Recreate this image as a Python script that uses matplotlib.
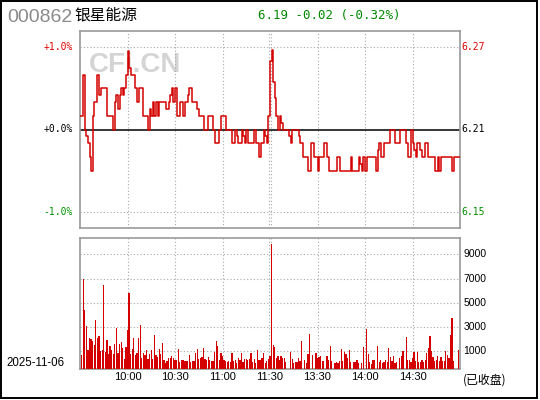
import numpy as np
import matplotlib
matplotlib.use('Agg')
import matplotlib.pyplot as plt
import matplotlib.transforms as mtransforms
from matplotlib.patches import Rectangle

# ---------------- data ----------------
code = '000862'
name = '银星能源'
quote_text = '6.19 -0.02 (-0.32%)'
date_text = '2025-11-06'
status_text = '(已收盘)'
watermark = 'CFi.CN'

prev_close = 6.21
price_levels = [6.27, 6.21, 6.15]
pct_labels = ['+1.0%', '+0.0%', '-1.0%']
price_labels = ['6.27', '6.21', '6.15']
level_colors = ['#e00000', '#000000', '#009000']

time_ticks = [30, 60, 90, 120, 150, 180, 210]
time_labels = ['10:00', '10:30', '11:00', '11:30', '13:30', '14:00', '14:30']

vol_ticks = [1490, 3470, 5450, 7440, 9530]
vol_labels = ['1000', '3000', '5000', '7000', '9000']

prices = [
    6.22, 6.22, 6.25, 6.21, 6.205, 6.20, 6.19, 6.18, 6.22, 6.23,
    6.23, 6.25, 6.235, 6.24, 6.24, 6.24, 6.24, 6.22, 6.22, 6.22,
    6.22, 6.21, 6.23, 6.235, 6.225, 6.235, 6.24, 6.235, 6.24, 6.25,
    6.267, 6.255, 6.25, 6.25, 6.25, 6.24, 6.23, 6.24, 6.24, 6.24,
    6.22, 6.22, 6.22, 6.21, 6.225, 6.22, 6.23, 6.22, 6.23, 6.22,
    6.23, 6.23, 6.23, 6.23, 6.225, 6.225, 6.23, 6.235, 6.24, 6.23,
    6.24, 6.22, 6.22, 6.23, 6.23, 6.22, 6.23, 6.23, 6.235, 6.24,
    6.24, 6.23, 6.23, 6.23, 6.225, 6.22, 6.22, 6.22, 6.21, 6.21,
    6.21, 6.22, 6.22, 6.22, 6.21, 6.20, 6.20, 6.20, 6.21, 6.22,
    6.22, 6.22, 6.21, 6.21, 6.21, 6.21, 6.20, 6.20, 6.21, 6.205,
    6.20, 6.20, 6.21, 6.205, 6.20, 6.21, 6.20, 6.20, 6.20, 6.20,
    6.21, 6.20, 6.20, 6.19, 6.20, 6.20, 6.21, 6.205, 6.20, 6.22,
    6.26, 6.268, 6.245, 6.233, 6.22, 6.21, 6.22, 6.215, 6.21, 6.21,
    6.21, 6.21, 6.205, 6.20, 6.21, 6.21, 6.21, 6.21, 6.205, 6.20,
    6.20, 6.19, 6.19, 6.19, 6.18, 6.18, 6.20, 6.20, 6.19, 6.19,
    6.18, 6.19, 6.19, 6.19, 6.20, 6.20, 6.19, 6.18, 6.18, 6.18,
    6.18, 6.18, 6.19, 6.19, 6.18, 6.18, 6.18, 6.18, 6.18, 6.18,
    6.18, 6.19, 6.18, 6.18, 6.18, 6.18, 6.19, 6.185, 6.18, 6.19,
    6.18, 6.19, 6.19, 6.19, 6.19, 6.19, 6.19, 6.18, 6.195, 6.20,
    6.19, 6.19, 6.20, 6.20, 6.20, 6.20, 6.21, 6.21, 6.21, 6.20,
    6.20, 6.20, 6.21, 6.21, 6.21, 6.21, 6.20, 6.19, 6.19, 6.21,
    6.20, 6.195, 6.19, 6.20, 6.20, 6.195, 6.19, 6.19, 6.20, 6.20,
    6.19, 6.19, 6.19, 6.19, 6.18, 6.18, 6.19, 6.18, 6.19, 6.19,
    6.19, 6.19, 6.19, 6.19, 6.19, 6.18, 6.19, 6.19, 6.19, 6.19,
    6.19,
]

vol_open = [0]
vol_morning_a = [
    1185, 7440, 4900, 3580, 1600, 2590, 2510, 2340, 2010, 4080,
    2590, 2760, 1520, 1600, 6970, 1430, 2420, 1270, 1930, 1600,
    1270, 2090, 3420, 1350, 2090, 2260, 1760, 850, 1850, 3250,
    6310, 1270, 1680, 2590, 1185, 1350, 2590, 3660, 940, 1350,
    1185, 1600, 850, 1270, 1600, 850, 2840, 1185, 1020, 1680,
    1270, 2180, 770, 520, 690, 940, 940, 1100, 940, 770,
    770, 1680, 610, 770, 770, 690, 690, 690, 1185, 610,
    690, 690, 1350, 1680, 850, 940,
]
vol_morning_b = [
    1020, 1760, 850, 770, 1020, 770, 690, 690, 1430, 2340,
    1930, 770, 1350, 1100, 770, 690, 610, 690, 610, 1350,
    690, 770, 520, 940, 770, 1350, 610, 850, 850, 770,
    850, 1350, 610, 850, 520, 1600, 770, 770, 940, 1350,
    520, 690, 850, 1100,
]
vol_afternoon = [
    10360, 2010, 1850, 940, 1100, 770, 1100, 940, 940, 610,
    0, 0,
    1430, 850, 520, 610, 610, 940, 690, 2340, 0, 770,
    520, 1270, 2920, 0, 1185, 0, 1350, 940,
    1020, 1100, 690, 690, 0, 1100, 770, 1930, 690, 0,
    520, 610, 520, 690, 1680, 690, 1430, 1270, 940, 1600,
    610, 0, 610, 610, 770, 520, 0, 520, 1850, 0,
    3330, 1270, 610, 440, 770, 770, 0, 1930, 610, 770,
    520, 610, 770, 610, 1760,
    1020, 690, 1100, 520, 610, 0, 940, 1100, 1520, 0,
    2670, 770, 770, 610, 940, 1430, 690, 1430, 610, 610,
    770, 610, 770, 1350, 1760, 2760, 1520, 1020, 690, 770,
    1100, 690, 1020, 690, 690, 1520, 1185, 940, 2840, 4240,
    690, 0, 0, 1600, 0,
]
volumes = vol_open + vol_morning_a + vol_morning_b + vol_afternoon

# ---------------- figure ----------------
W, H = 540, 400
fig = plt.figure(figsize=(W / 100, H / 100), dpi=100)
fig.patch.set_facecolor('white')

def fx(px):
    return px / W

def fy(py):
    return 1 - py / H

RED = '#d40000'
GRID = '#a8a8a8'
SPINE = '#999999'
MONO = 'DejaVu Sans Mono'
SANS = 'Liberation Sans'
CJK = ['Noto Sans CJK SC', 'DejaVu Sans']

x = np.arange(len(prices))
vx = np.arange(len(volumes))

ax1 = fig.add_axes([fx(80), fy(228), fx(460) - fx(80), fy(31) - fy(228)])
ax2 = fig.add_axes([fx(80), fy(369.3), fx(460) - fx(80), fy(238.3) - fy(369.3)])

for ax in (ax1, ax2):
    ax.set_xlim(0, 240)
    ax.set_xticks([])
    ax.set_yticks([])
    for s in ax.spines.values():
        s.set_color(SPINE)
        s.set_linewidth(1.2)
    for t in time_ticks:
        if t == 120:
            for tt in (119.6, 120.9):
                ax.axvline(tt, color=GRID, lw=0.8, ls=(0, (1, 2)), zorder=1)
        else:
            ax.axvline(t, color=GRID, lw=0.8, ls=(0, (1, 2)), zorder=1)

# watermark drawn inside the price panel, beneath the line
ax1.text(fx(89), fy(65), watermark, transform=fig.transFigure, fontsize=20,
         fontweight='bold', family=SANS, color='#d4d4d4', ha='left',
         va='center', zorder=0.5)

ax1.set_ylim(6.1381, 6.2819)
for lv in (price_levels[0], price_levels[2]):
    ax1.axhline(lv, color=GRID, lw=0.8, ls=(0, (1, 2)), zorder=1)
ax1.axhline(prev_close, color='black', lw=1.1, zorder=2)
ax1.plot(x, prices, drawstyle='steps-post', color=RED, lw=1.1, zorder=3)

trans1 = mtransforms.blended_transform_factory(fig.transFigure, ax1.transData)
for lv, pl, rl, c in zip(price_levels, pct_labels, price_labels, level_colors):
    fig.text(fx(72.5), lv, pl, transform=trans1, ha='right', va='center',
             fontsize=7, family=MONO, color=c)
    fig.text(fx(461.5), lv, rl, transform=trans1, ha='left', va='center',
             fontsize=7, family=MONO, color=c)

ax2.set_ylim(0, 10830)
for vt in vol_ticks:
    ax2.axhline(vt, color=GRID, lw=0.8, ls=(0, (1, 2)), zorder=1)
ax2.bar(vx, volumes, width=0.75, color=RED, zorder=3, linewidth=0)

trans2 = mtransforms.blended_transform_factory(fig.transFigure, ax2.transData)
for vt, vl in zip(vol_ticks, vol_labels):
    fig.text(fx(463.5), vt, vl, transform=trans2, ha='left', va='center',
             fontsize=7.5, family=SANS, color='black')

trans3 = mtransforms.blended_transform_factory(ax2.transData, fig.transFigure)
for t, lab in zip(time_ticks, time_labels):
    fig.text(t, fy(377.5), lab, transform=trans3, ha='center', va='center',
             fontsize=8, family=SANS, color='black')

fig.text(fx(7.5), fy(17), code, ha='left', va='center', fontsize=14,
         family=SANS, color='#8a8a8a')
fig.text(fx(74.5), fy(14.5), name, ha='left', va='center', fontsize=11.3,
         family=CJK, color='black')
fig.text(fx(258.5), fy(15), quote_text, ha='left', va='center', fontsize=9,
         family=MONO, color='#008800')

fig.text(fx(6.5), fy(363.5), date_text, ha='left', va='center', fontsize=8.3,
         family=SANS, color='black')
fig.text(fx(462.5), fy(380), status_text, ha='left', va='center', fontsize=8.6,
         family=CJK, color='black')

fig.patches.append(Rectangle((fx(0.8), fy(398.3)), fx(537.2) - fx(0.8),
                             fy(0.8) - fy(398.3), transform=fig.transFigure,
                             fill=False, edgecolor='black', linewidth=1.4))

fig.savefig('out.png', dpi=100, facecolor='white')
